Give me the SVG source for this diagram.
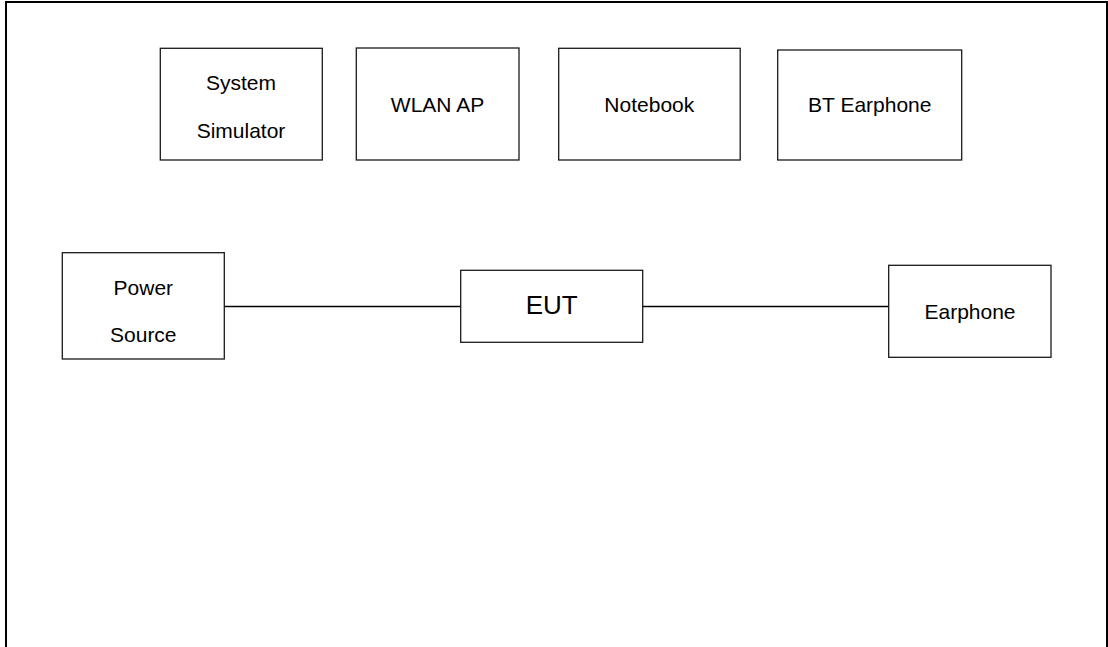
<svg xmlns="http://www.w3.org/2000/svg" width="1108" height="647" viewBox="0 0 1108 647">
<style>
.box{fill:#fff;stroke:#1a1a1a;stroke-width:1.3}
.lbl{font-family:"Liberation Sans",Arial,sans-serif;font-size:21px;fill:#000;text-anchor:middle}
.big{font-size:26px}
.wire{stroke:#000;stroke-width:1.5;fill:none}
.frame{stroke:#000;stroke-width:2;fill:none}
</style>
<rect width="1108" height="647" fill="#fff"/>
<path class="frame" d="M6,650 V2 H1107 V650"/>
<g id="connectors">
<line class="wire" x1="224.3" y1="306.5" x2="460.7" y2="306.5"/>
<line class="wire" x1="642.7" y1="306.5" x2="888.7" y2="306.5"/>
</g>
<g id="system-simulator">
<rect class="box" x="160.3" y="48.3" width="162" height="111.7"/>
<text class="lbl" x="241" y="90">System</text>
<text class="lbl" x="241" y="138">Simulator</text>
</g>
<g id="wlan-ap">
<rect class="box" x="356.3" y="48" width="162.7" height="112"/>
<text class="lbl" x="437.5" y="111.7">WLAN AP</text>
</g>
<g id="notebook">
<rect class="box" x="558.7" y="48.3" width="181.5" height="111.7"/>
<text class="lbl" x="649.3" y="111.7">Notebook</text>
</g>
<g id="bt-earphone">
<rect class="box" x="777.7" y="50" width="184" height="110"/>
<text class="lbl" x="869.8" y="111.7">BT Earphone</text>
</g>
<g id="power-source">
<rect class="box" x="62.3" y="252.7" width="162" height="106.3"/>
<text class="lbl" x="143.3" y="295">Power</text>
<text class="lbl" x="143.3" y="342.3">Source</text>
</g>
<g id="eut">
<rect class="box" x="460.7" y="270.3" width="182" height="72"/>
<text class="lbl big" x="551.7" y="314">EUT</text>
</g>
<g id="earphone">
<rect class="box" x="888.7" y="265.3" width="162.3" height="92"/>
<text class="lbl" x="970" y="319">Earphone</text>
</g>
</svg>
